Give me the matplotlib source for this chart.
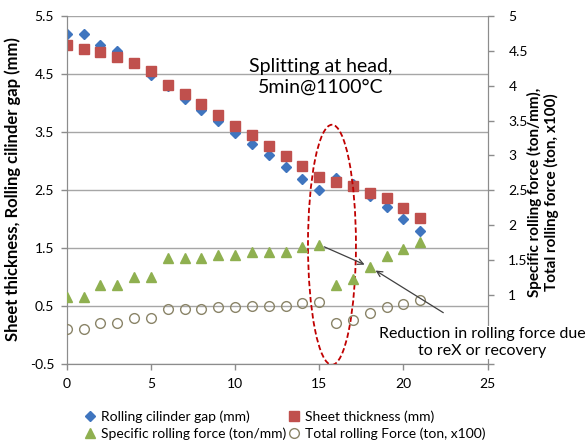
import matplotlib.pyplot as plt
from matplotlib.patches import Ellipse

plt.rcParams['font.family'] = ['Lato', 'DejaVu Sans']

# pass number
passes = list(range(22))

# left axis (mm)
cyl_gap = [5.19, 5.19, 5.00, 4.90, 4.70, 4.49, 4.30, 4.07, 3.88, 3.69, 3.49,
           3.30, 3.10, 2.91, 2.70, 2.50, 2.72, 2.60, 2.40, 2.21, 2.00, 1.80]
thickness = [5.00, 4.94, 4.89, 4.79, 4.69, 4.55, 4.32, 4.16, 3.99, 3.80, 3.61,
             3.45, 3.26, 3.09, 2.92, 2.73, 2.64, 2.57, 2.46, 2.36, 2.19, 2.02]

# right axis (forces)
spec_force = [0.96, 0.96, 1.14, 1.14, 1.26, 1.26, 1.52, 1.52, 1.52, 1.57, 1.57,
              1.61, 1.61, 1.61, 1.68, 1.72, 1.14, 1.22, 1.40, 1.56, 1.65, 1.76]
total_force = [0.50, 0.50, 0.60, 0.60, 0.66, 0.66, 0.80, 0.80, 0.80, 0.82, 0.82,
               0.84, 0.84, 0.84, 0.88, 0.90, 0.60, 0.64, 0.74, 0.83, 0.86, 0.93]

left_ticks = [-0.5, 0.5, 1.5, 2.5, 3.5, 4.5, 5.5]
right_ticks = [0, 0.5, 1, 1.5, 2, 2.5, 3, 3.5, 4, 4.5, 5]
x_ticks = [0, 5, 10, 15, 20, 25]

grey = '#8c8c8c'

fig = plt.figure(figsize=(5.87, 4.46), dpi=100)
ax = fig.add_axes([0.1136, 0.1832, 0.7169, 0.7803])
ax2 = ax.twinx()

ax.set_xlim(0, 25)
ax.set_ylim(-0.5, 5.5)
ax2.set_ylim(0, 5)
ax.set_xticks(x_ticks)
ax.set_yticks(left_ticks)
ax.set_yticklabels([str(t) for t in left_ticks])
ax2.set_yticks(right_ticks)
ax2.set_yticklabels(['' if t < 1 else ('%g' % t) for t in right_ticks])

ax.yaxis.grid(True, color='#a6a6a6', lw=1)
ax.set_axisbelow(True)
for a in (ax, ax2):
    a.spines['top'].set_visible(False)
    for s in ('left', 'right', 'bottom'):
        a.spines[s].set_color(grey)
    a.tick_params(colors=grey, labelcolor='black', labelsize=10, length=4, width=1)
ax.tick_params(axis='y', pad=5)
ax.tick_params(axis='x', pad=6)
ax2.tick_params(axis='y', pad=11)

h1, = ax.plot(passes, cyl_gap, 'D', ms=5, color='#3f75bf', ls='none', zorder=3,
              label='Rolling cilinder gap (mm)')
h2, = ax.plot(passes, thickness, 's', ms=6.5, color='#c0504d', ls='none', zorder=3,
              label='Sheet thickness (mm)')
h3, = ax2.plot(passes, spec_force, '^', ms=7, color='#8fb050', ls='none', zorder=3,
               label='Specific rolling force (ton/mm)')
h4, = ax2.plot(passes, total_force, 'o', ms=7, mfc='none', mec='#8a8468', mew=1,
               ls='none', zorder=3, label='Total rolling Force (ton, x100)')

ax.add_patch(Ellipse((15.76, 1.56), 2.85, 4.14, fill=False, ec='#c00000',
                     ls=(0, (3, 1.5)), lw=1.3, zorder=4))

ax.text(15.1, 4.46, 'Splitting at head,\n5min@1100°C', ha='center', va='center',
        fontsize=14, linespacing=1.3)

# annotation + arrows
ax2.text(24.7, 0.31, 'Reduction in rolling force due\nto reX or recovery',
         ha='center', va='center', fontsize=11.5, linespacing=1.3, zorder=6,
         bbox=dict(fc='white', ec='none', pad=0.5), clip_on=False)
arrow = dict(arrowstyle='->', color='#404040', lw=0.9)
ax2.annotate('', xy=(passes[18], spec_force[18]), xytext=(passes[15], spec_force[15]),
             arrowprops=dict(arrow, shrinkA=4, shrinkB=4))
ax2.annotate('', xy=(passes[18], spec_force[18]), xytext=(53, -33),
             textcoords='offset points', zorder=7,
             arrowprops=dict(arrow, shrinkA=0, shrinkB=5))

fig.text(13 / 587, 1 - 189 / 446, 'Sheet thickness, Rolling cilinder gap (mm)',
         rotation=90, ha='center', va='center', fontsize=12, fontweight='bold')
fig.text(543 / 587, 1 - 192 / 446,
         'Specific rolling force (ton/mm),\nTotal rolling force (ton, x100)',
         rotation=90, ha='center', va='center', fontsize=11, fontweight='bold',
         linespacing=1.1)

fig.legend([h1, h3, h2, h4], [h.get_label() for h in (h1, h3, h2, h4)], ncol=2,
           loc='upper left', bbox_to_anchor=(75 / 587, 1 - 401 / 446), frameon=False,
           fontsize=10, handlelength=0.8, handletextpad=0.4, columnspacing=0.1,
           labelspacing=0.3, borderpad=0.2)

fig.savefig('out.png', dpi=100)
